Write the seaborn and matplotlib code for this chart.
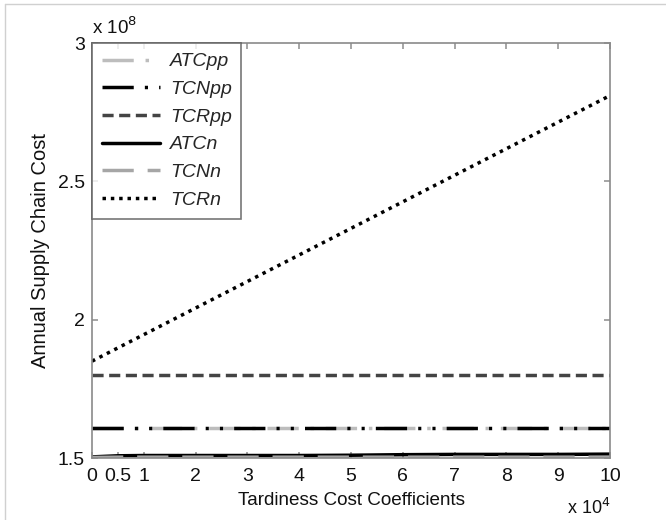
"""Annual supply chain cost vs tardiness cost coefficients (MATLAB-style line chart)."""

import pandas as pd
import matplotlib
matplotlib.use("Agg")
import matplotlib.pyplot as plt
import seaborn as sns

# Data (x in units of 1e4, y in units of 1e8)
tardiness_coef = [0, 0.5, 1, 2, 3, 4, 5, 6, 7, 8, 9, 10]
atc_pp = [1.61, 1.61, 1.61, 1.61, 1.61, 1.61, 1.61, 1.61, 1.61, 1.61, 1.61, 1.61]
tcn_pp = [1.61, 1.61, 1.61, 1.61, 1.61, 1.61, 1.61, 1.61, 1.61, 1.61, 1.61, 1.61]
tcr_pp = [1.80, 1.80, 1.80, 1.80, 1.80, 1.80, 1.80, 1.80, 1.80, 1.80, 1.80, 1.80]
atc_n = [1.504, 1.508, 1.509, 1.509, 1.509, 1.509, 1.510, 1.512, 1.513, 1.513, 1.513, 1.514]
tcn_n = [1.502, 1.503, 1.503, 1.503, 1.503, 1.503, 1.503, 1.503, 1.503, 1.503, 1.503, 1.503]
tcr_n = [1.85, 1.898, 1.946, 2.042, 2.138, 2.234, 2.33, 2.426, 2.522, 2.618, 2.714, 2.81]

x_ticks = [0, 0.5, 1, 2, 3, 4, 5, 6, 7, 8, 9, 10]
x_tick_labels = ["0", "0.5", "1", "2", "3", "4", "5", "6", "7", "8", "9", "10"]
y_ticks = [1.5, 2, 2.5, 3]
y_tick_labels = ["1.5", "2", "2.5", "3"]

series = [
    ("ATCpp", atc_pp, "#bdbdbd", (9, 3.4, 1, 3.4)),
    ("TCNpp", tcn_pp, "#000000", (9, 3.2, 0.9, 3.2, 0.9, 3.2)),
    ("TCRpp", tcr_pp, "#444444", (3.2, 1.6)),
    ("ATCn", atc_n, "#000000", ()),
    ("TCNn", tcn_n, "#a6a6a6", (9, 4)),
    ("TCRn", tcr_n, "#000000", (1, 1.4)),
]

sns.set_theme(style="white")
plt.rcParams["font.family"] = ["Liberation Sans", "DejaVu Sans"]

fig = plt.figure(figsize=(6.66, 5.2), dpi=100)
ax = fig.add_axes([92 / 666, 1 - 458 / 520, 518 / 666, 415 / 520])

for name, values, color, dash in series:
    df = pd.DataFrame({"x": tardiness_coef, "y": values})
    sns.lineplot(data=df, x="x", y="y", ax=ax, color=color, linewidth=2.5,
                 label=name, dashes=False)
    line = ax.get_lines()[-1]
    if dash:
        line.set_dashes(dash)
    else:
        line.set_linestyle("-")

ax.set_xlim(0, 10)
ax.set_ylim(1.5, 3)
ax.set_xticks(x_ticks)
ax.set_xticklabels(x_tick_labels)
ax.set_yticks(y_ticks)
ax.set_yticklabels(y_tick_labels)
ax.tick_params(direction="in", length=4, color="#9a9a9a", labelsize=14,
               labelcolor="#111111", top=True, right=True, bottom=True, left=True)
ax.tick_params(axis="x", pad=7)
ax.tick_params(axis="y", pad=5)
for spine in ax.spines.values():
    spine.set_visible(True)
    spine.set_color("#8a8a8a")
    spine.set_linewidth(1.2)

ax.set_xlabel("Tardiness Cost Coefficients", fontsize=13.6, color="#111111", labelpad=5)
ax.set_ylabel("Annual Supply Chain Cost", fontsize=14.5, color="#111111", labelpad=6)
ax.text(0.0, 1.012, r"x 10$^{8}$", transform=ax.transAxes, fontsize=13.5,
        ha="left", va="bottom", color="#111111")
fig.text(610 / 666, 1 - 518 / 520, r"x 10$^{4}$", fontsize=13,
         ha="right", va="bottom", color="#111111")

leg = ax.legend(loc="upper left", frameon=True, fancybox=False, fontsize=14,
                borderaxespad=0, handlelength=3.0, labelspacing=0.52,
                borderpad=0.5, handletextpad=0.5)
leg.get_frame().set_edgecolor("#555555")
leg.get_frame().set_linewidth(1.2)
for txt in leg.get_texts():
    txt.set_fontstyle("italic")

# light frame at top and left edges of the figure
fig.add_artist(plt.Line2D([5 / 666, 1], [1 - 4 / 520, 1 - 4 / 520],
                          transform=fig.transFigure, color="#d0d0d0", linewidth=1))
fig.add_artist(plt.Line2D([5 / 666, 5 / 666], [0, 1 - 4 / 520],
                          transform=fig.transFigure, color="#d0d0d0", linewidth=1))

fig.savefig("out.png", dpi=100)
